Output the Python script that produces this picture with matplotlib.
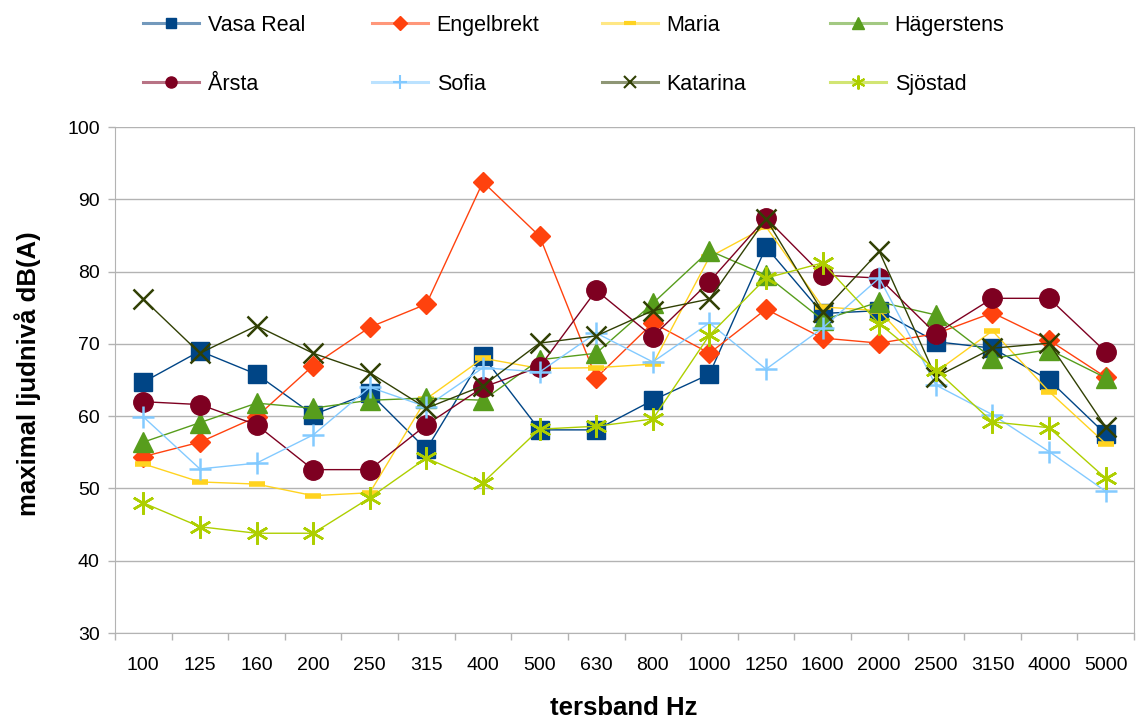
import matplotlib
matplotlib.use("Agg")
import matplotlib.pyplot as plt
from matplotlib.lines import Line2D
from matplotlib.colors import to_rgb

plt.rcParams['font.family'] = ['Liberation Sans', 'DejaVu Sans']

bands = ["100", "125", "160", "200", "250", "315", "400", "500", "630", "800",
         "1000", "1250", "1600", "2000", "2500", "3150", "4000", "5000"]

vasa_real  = [64.7, 69.0, 65.8, 60.2, 63.2, 55.4, 68.3, 58.1, 58.1, 62.2, 65.8, 83.4, 74.2, 74.6, 70.3, 69.4, 65.0, 57.5]
engelbrekt = [54.4, 56.4, 59.9, 67.0, 72.3, 75.5, 92.4, 84.9, 65.3, 72.9, 68.7, 74.8, 70.8, 70.1, 71.4, 74.3, 70.5, 65.4]
maria      = [53.4, 50.9, 50.6, 49.0, 49.4, 62.4, 68.0, 66.6, 66.7, 67.2, 82.0, 86.2, 75.1, 74.6, 66.1, 71.8, 63.4, 56.2]
hagerstens = [56.4, 59.1, 61.8, 61.1, 62.2, 62.5, 62.2, 67.8, 68.7, 75.6, 82.9, 79.5, 73.3, 75.8, 74.0, 68.0, 69.2, 65.3]
arsta      = [62.0, 61.6, 58.8, 52.6, 52.6, 58.8, 64.0, 66.8, 77.4, 71.0, 78.6, 87.4, 79.5, 79.1, 71.4, 76.3, 76.3, 68.9]
sofia      = [59.9, 52.7, 53.5, 57.4, 64.0, 61.3, 66.7, 66.1, 71.5, 67.5, 72.9, 66.5, 72.2, 79.1, 64.3, 60.2, 55.1, 49.6]
katarina   = [76.2, 68.7, 72.5, 68.7, 66.0, 61.1, 64.2, 70.1, 71.1, 74.6, 76.2, 87.3, 74.4, 82.8, 65.4, 69.4, 70.1, 58.5]
sjostad    = [48.0, 44.7, 43.8, 43.8, 48.7, 54.2, 50.8, 58.2, 58.6, 59.6, 71.2, 79.1, 81.2, 72.8, 66.4, 59.2, 58.4, 51.4]

series = [
    ("Vasa Real", vasa_real, "#004586", "s", 13, 1.0, 7, 1.0),
    ("Engelbrekt", engelbrekt, "#FF420E", "D", 10, 1.0, 7, 1.0),
    ("Maria", maria, "#FFD320", "_", 12, 4.0, 8, 3.0),
    ("Hägerstens", hagerstens, "#579D1C", "^", 14, 1.0, 9, 1.0),
    ("Årsta", arsta, "#7E0021", "o", 14, 1.0, 8, 1.0),
    ("Sofia", sofia, "#83CAFF", "+", 16, 1.8, 10, 1.5),
    ("Katarina", katarina, "#314004", "x", 15, 1.8, 9, 1.5),
    ("Sjöstad", sjostad, "#AECF00", (6, 2, 0), 16, 1.8, 10, 1.5),
]

W, H = 1136, 720
fig = plt.figure(figsize=(W/100, H/100), dpi=100)
ax = fig.add_axes([115/W, 1-633/H, (1134-115)/W, (633-127)/H])

x = list(range(len(bands)))
for name, vals, col, mk, ms, mew, _, _ in series:
    ax.plot(x, vals, color=col, lw=1.0, marker=mk, markersize=ms,
            markerfacecolor=col, markeredgecolor=col, markeredgewidth=mew,
            label=name)

ax.set_xlim(-0.5, len(bands) - 0.5)
ax.set_ylim(30, 100)
ax.set_yticks(range(30, 101, 10))
ax.set_xticks(x)
ax.set_xticklabels(bands)
ax.set_xticks([i - 0.5 for i in range(len(bands) + 1)], minor=True)
ax.tick_params(axis='x', which='major', length=0, labelsize=14, pad=17)
ax.tick_params(axis='x', which='minor', length=5, color='#b3b3b3', width=1)
ax.tick_params(axis='y', length=5, color='#b3b3b3', width=1, labelsize=14, pad=6)
ax.grid(axis='y', color='#b3b3b3', lw=1)
ax.set_axisbelow(True)
ax.spines['top'].set_visible(False)
for s in ['left', 'right', 'bottom']:
    ax.spines[s].set_color('#b3b3b3')

fig.text(624/W, 1 - 708/H, "tersband Hz", fontsize=18.5, fontweight='bold',
         ha='center', va='center')
fig.text(28/W, 1 - 374/H, "maximal ljudnivå dB(A)", fontsize=18.5, fontweight='bold',
         ha='center', va='center', rotation=90)

def pale(c, f=0.45):
    r, g, b = to_rgb(c)
    return (r + (1 - r) * f, g + (1 - g) * f, b + (1 - b) * f)

col_x = [143, 372, 602, 830]
for c in range(4):
    items = [series[c], series[c + 4]]
    hs, ls = [], []
    for name, vals, col, mk, ms, mew, lms, lmew in items:
        hs.append(Line2D([], [], color=pale(col), lw=2.2, marker=mk, markersize=lms,
                         markerfacecolor=col, markeredgecolor=col, markeredgewidth=lmew))
        ls.append(name)
    fig.legend(hs, ls, loc='upper left', bbox_to_anchor=(col_x[c]/W, 1 - 15/H),
               frameon=False, fontsize=15.5, handlelength=2.6, handletextpad=0.4,
               borderpad=0, borderaxespad=0, labelspacing=1.75)

fig.savefig("out.png", dpi=100)
